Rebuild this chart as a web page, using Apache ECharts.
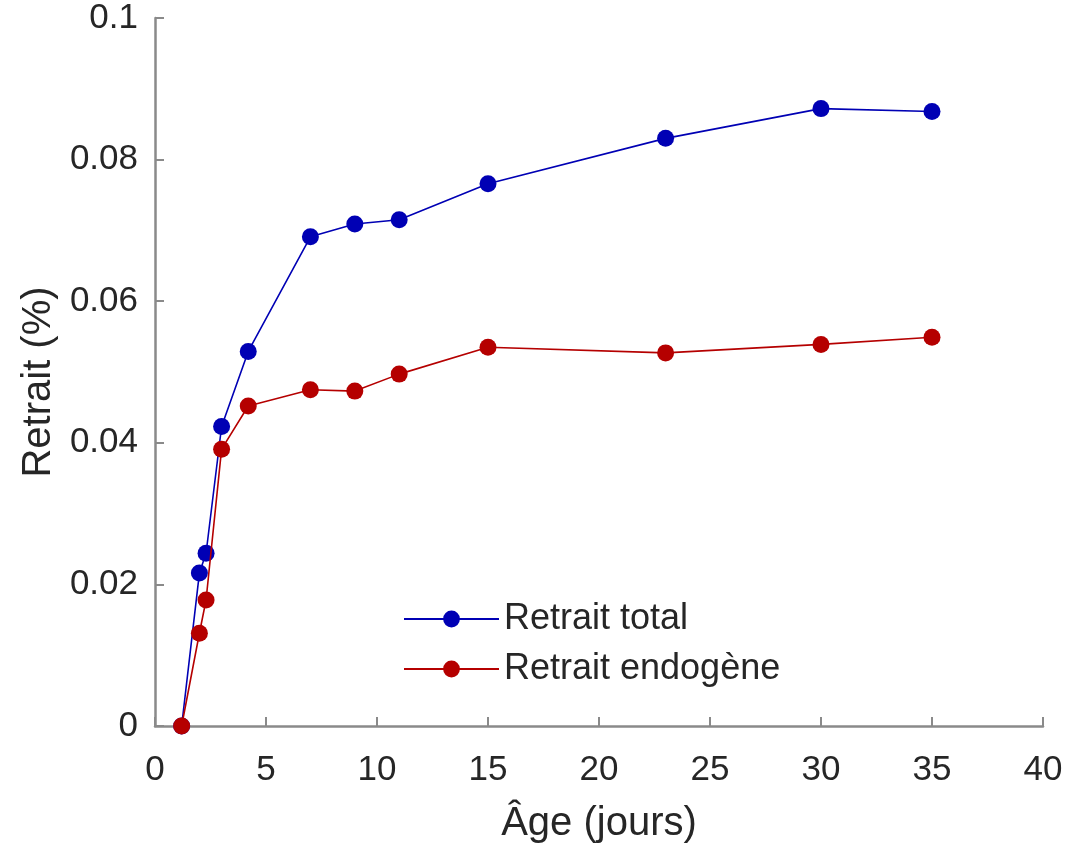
<!DOCTYPE html>
<html><head><meta charset="utf-8">
<script src="https://cdn.jsdelivr.net/npm/echarts@6/dist/echarts.min.js"></script>
<style>html,body{margin:0;padding:0;background:#fff}#c{width:1066px;height:846px}</style>
</head><body><div id="c"></div>
<script>
const ages = [1.2, 2, 2.3, 3, 4.2, 7, 9, 11, 15, 23, 30, 35];
const retraitTotal = [0, 0.0216, 0.0244, 0.0423, 0.0529, 0.0691, 0.0709, 0.0715, 0.0766, 0.0830, 0.0872, 0.0868];
const retraitEndogene = [0, 0.0131, 0.0178, 0.0391, 0.0452, 0.0475, 0.0473, 0.0497, 0.0535, 0.0527, 0.0539, 0.0549];
const seriesNames = ['Retrait total', 'Retrait endogène'];
const xTicks = [0, 5, 10, 15, 20, 25, 30, 35, 40];
const yTicks = [0, 0.02, 0.04, 0.06, 0.08, 0.1];

const font = '"Liberation Sans", Arial, Helvetica, sans-serif';
const chart = echarts.init(document.getElementById('c'), null, {renderer: 'canvas'});
const axisCommon = {
  axisLine: {show: true, onZero: false, lineStyle: {color: '#8a8a8a', width: 2.5}},
  axisTick: {show: true, inside: true, length: 9, lineStyle: {color: '#8a8a8a', width: 2}},
  splitLine: {show: false}
};
chart.setOption({
  animation: false,
  backgroundColor: '#fff',
  grid: {left: 155, right: 23, top: 18, bottom: 120, containLabel: false, outerBoundsMode: 'none'},
  legend: {
    orient: 'vertical', left: 398, top: 596,
    itemWidth: 95, itemHeight: 21, itemGap: 14,
    textStyle: {fontFamily: font, fontSize: 36, color: '#262626', lineHeight: 36},
    data: seriesNames
  },
  xAxis: Object.assign({}, axisCommon, {
    type: 'value', min: xTicks[0], max: xTicks[xTicks.length - 1], interval: 5,
    name: 'Âge (jours)', nameLocation: 'middle', nameGap: 78,
    nameTextStyle: {fontFamily: font, fontSize: 40, color: '#262626'},
    axisLabel: {fontFamily: font, fontSize: 35, color: '#262626', margin: 27}
  }),
  yAxis: Object.assign({}, axisCommon, {
    type: 'value', min: yTicks[0], max: yTicks[yTicks.length - 1], interval: 0.02,
    name: 'Retrait (%)', nameLocation: 'middle', nameGap: 96, nameRotate: 90,
    nameTextStyle: {fontFamily: font, fontSize: 40, color: '#262626', padding: [0, 20, 0, 0]},
    axisLabel: {fontFamily: font, fontSize: 35, color: '#262626', margin: 17,
      formatter: v => String(+v.toFixed(2))}
  }),
  series: [
    {name: seriesNames[0], type: 'line', data: ages.map((a, i) => [a, retraitTotal[i]]),
     symbol: 'circle', symbolSize: 17, color: '#0000b4',
     lineStyle: {width: 1.6, color: '#0000b4'}, itemStyle: {color: '#0000b4'}, z: 2},
    {name: seriesNames[1], type: 'line', data: ages.map((a, i) => [a, retraitEndogene[i]]),
     symbol: 'circle', symbolSize: 17, color: '#b50000',
     lineStyle: {width: 1.6, color: '#b50000'}, itemStyle: {color: '#b50000'}, z: 3}
  ]
});
</script></body></html>
